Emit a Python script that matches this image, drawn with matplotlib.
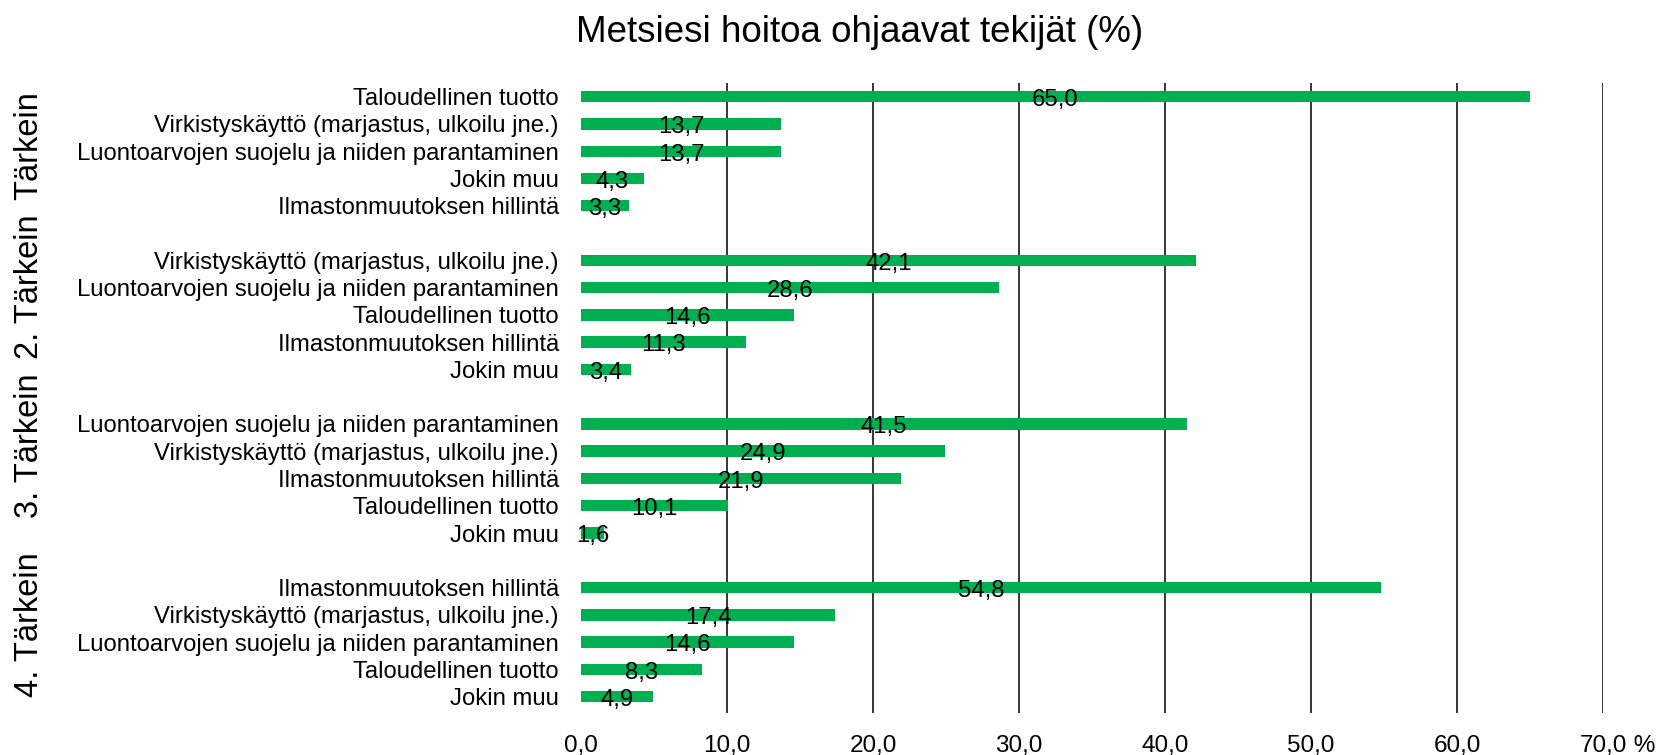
import numpy as np
import matplotlib
matplotlib.use("Agg")
import matplotlib.pyplot as plt

# data
groups = ["Tärkein", "2. Tärkein", "3. Tärkein", "4. Tärkein"]
g1_labels = ["Taloudellinen tuotto", "Virkistyskäyttö (marjastus, ulkoilu jne.)",
             "Luontoarvojen suojelu ja niiden parantaminen", "Jokin muu",
             "Ilmastonmuutoksen hillintä"]
g1_values = [65.0, 13.7, 13.7, 4.3, 3.3]
g2_labels = ["Virkistyskäyttö (marjastus, ulkoilu jne.)",
             "Luontoarvojen suojelu ja niiden parantaminen", "Taloudellinen tuotto",
             "Ilmastonmuutoksen hillintä", "Jokin muu"]
g2_values = [42.1, 28.6, 14.6, 11.3, 3.4]
g3_labels = ["Luontoarvojen suojelu ja niiden parantaminen",
             "Virkistyskäyttö (marjastus, ulkoilu jne.)", "Ilmastonmuutoksen hillintä",
             "Taloudellinen tuotto", "Jokin muu"]
g3_values = [41.5, 24.9, 21.9, 10.1, 1.6]
g4_labels = ["Ilmastonmuutoksen hillintä", "Virkistyskäyttö (marjastus, ulkoilu jne.)",
             "Luontoarvojen suojelu ja niiden parantaminen", "Taloudellinen tuotto",
             "Jokin muu"]
g4_values = [54.8, 17.4, 14.6, 8.3, 4.9]
x_ticks = [0, 10, 20, 30, 40, 50, 60, 70]

all_labels = [g1_labels, g2_labels, g3_labels, g4_labels]
all_values = [g1_values, g2_values, g3_values, g4_values]

plt.rcParams['font.family'] = ['Liberation Sans', 'DejaVu Sans']

fig = plt.figure(figsize=(16.62, 7.55), dpi=100)
ax = fig.add_axes([0.3496, 0.0556, 0.6149, 0.8344])

ypos, ylabels, vals = [], [], []
row = 0
for labs, vs in zip(all_labels, all_values):
    for l, v in zip(labs, vs):
        ypos.append(row)
        ylabels.append(l)
        vals.append(v)
        row += 1
    row += 1  # empty row between groups

ax.barh(ypos, vals, height=0.42, color='#00B050', zorder=3)
for y, v in zip(ypos, vals):
    ax.text(v / 2, y + 0.12, f"{v:.1f}".replace('.', ','), ha='center', va='center',
            fontsize=17.2, zorder=4)

ax.set_xlim(0, 70)
ax.set_ylim(22.6, -0.5)
ax.set_yticks(ypos)
ax.set_yticklabels(ylabels, fontsize=17.2)
ax.tick_params(axis='y', length=0, pad=16)
ax.set_xticks(x_ticks)
ax.set_xticklabels([f"{t:.1f}".replace('.', ',') for t in x_ticks], fontsize=17.5)
ax.tick_params(axis='x', length=0, pad=16)
for t in x_ticks[1:]:
    ax.axvline(t, color='black', lw=1.1, zorder=2)
for s in ax.spines.values():
    s.set_visible(False)

# unit after the last tick label
fig.canvas.draw()
last = ax.get_xticklabels()[-1]
bb = last.get_window_extent()
inv = fig.transFigure.inverted()
x1, yc = inv.transform((bb.x1, (bb.y0 + bb.y1) / 2))
fig.text(x1, yc, "\u00a0%", ha='left', va='center', fontsize=17.5)

# group labels on the left
group_rows = [1.78, 6.98, 12.8, 19.36]
for g, r in zip(groups, group_rows):
    yf = inv.transform(ax.transData.transform((0, r)))[1]
    fig.text(29 / 1662, yf, g, rotation=90, ha='center', va='center', fontsize=23.5)

fig.text(860 / 1662, 1 - 32 / 755, "Metsiesi hoitoa ohjaavat tekijät (%)",
         ha='center', va='center', fontsize=26.5)

fig.savefig("out.png", dpi=100)
